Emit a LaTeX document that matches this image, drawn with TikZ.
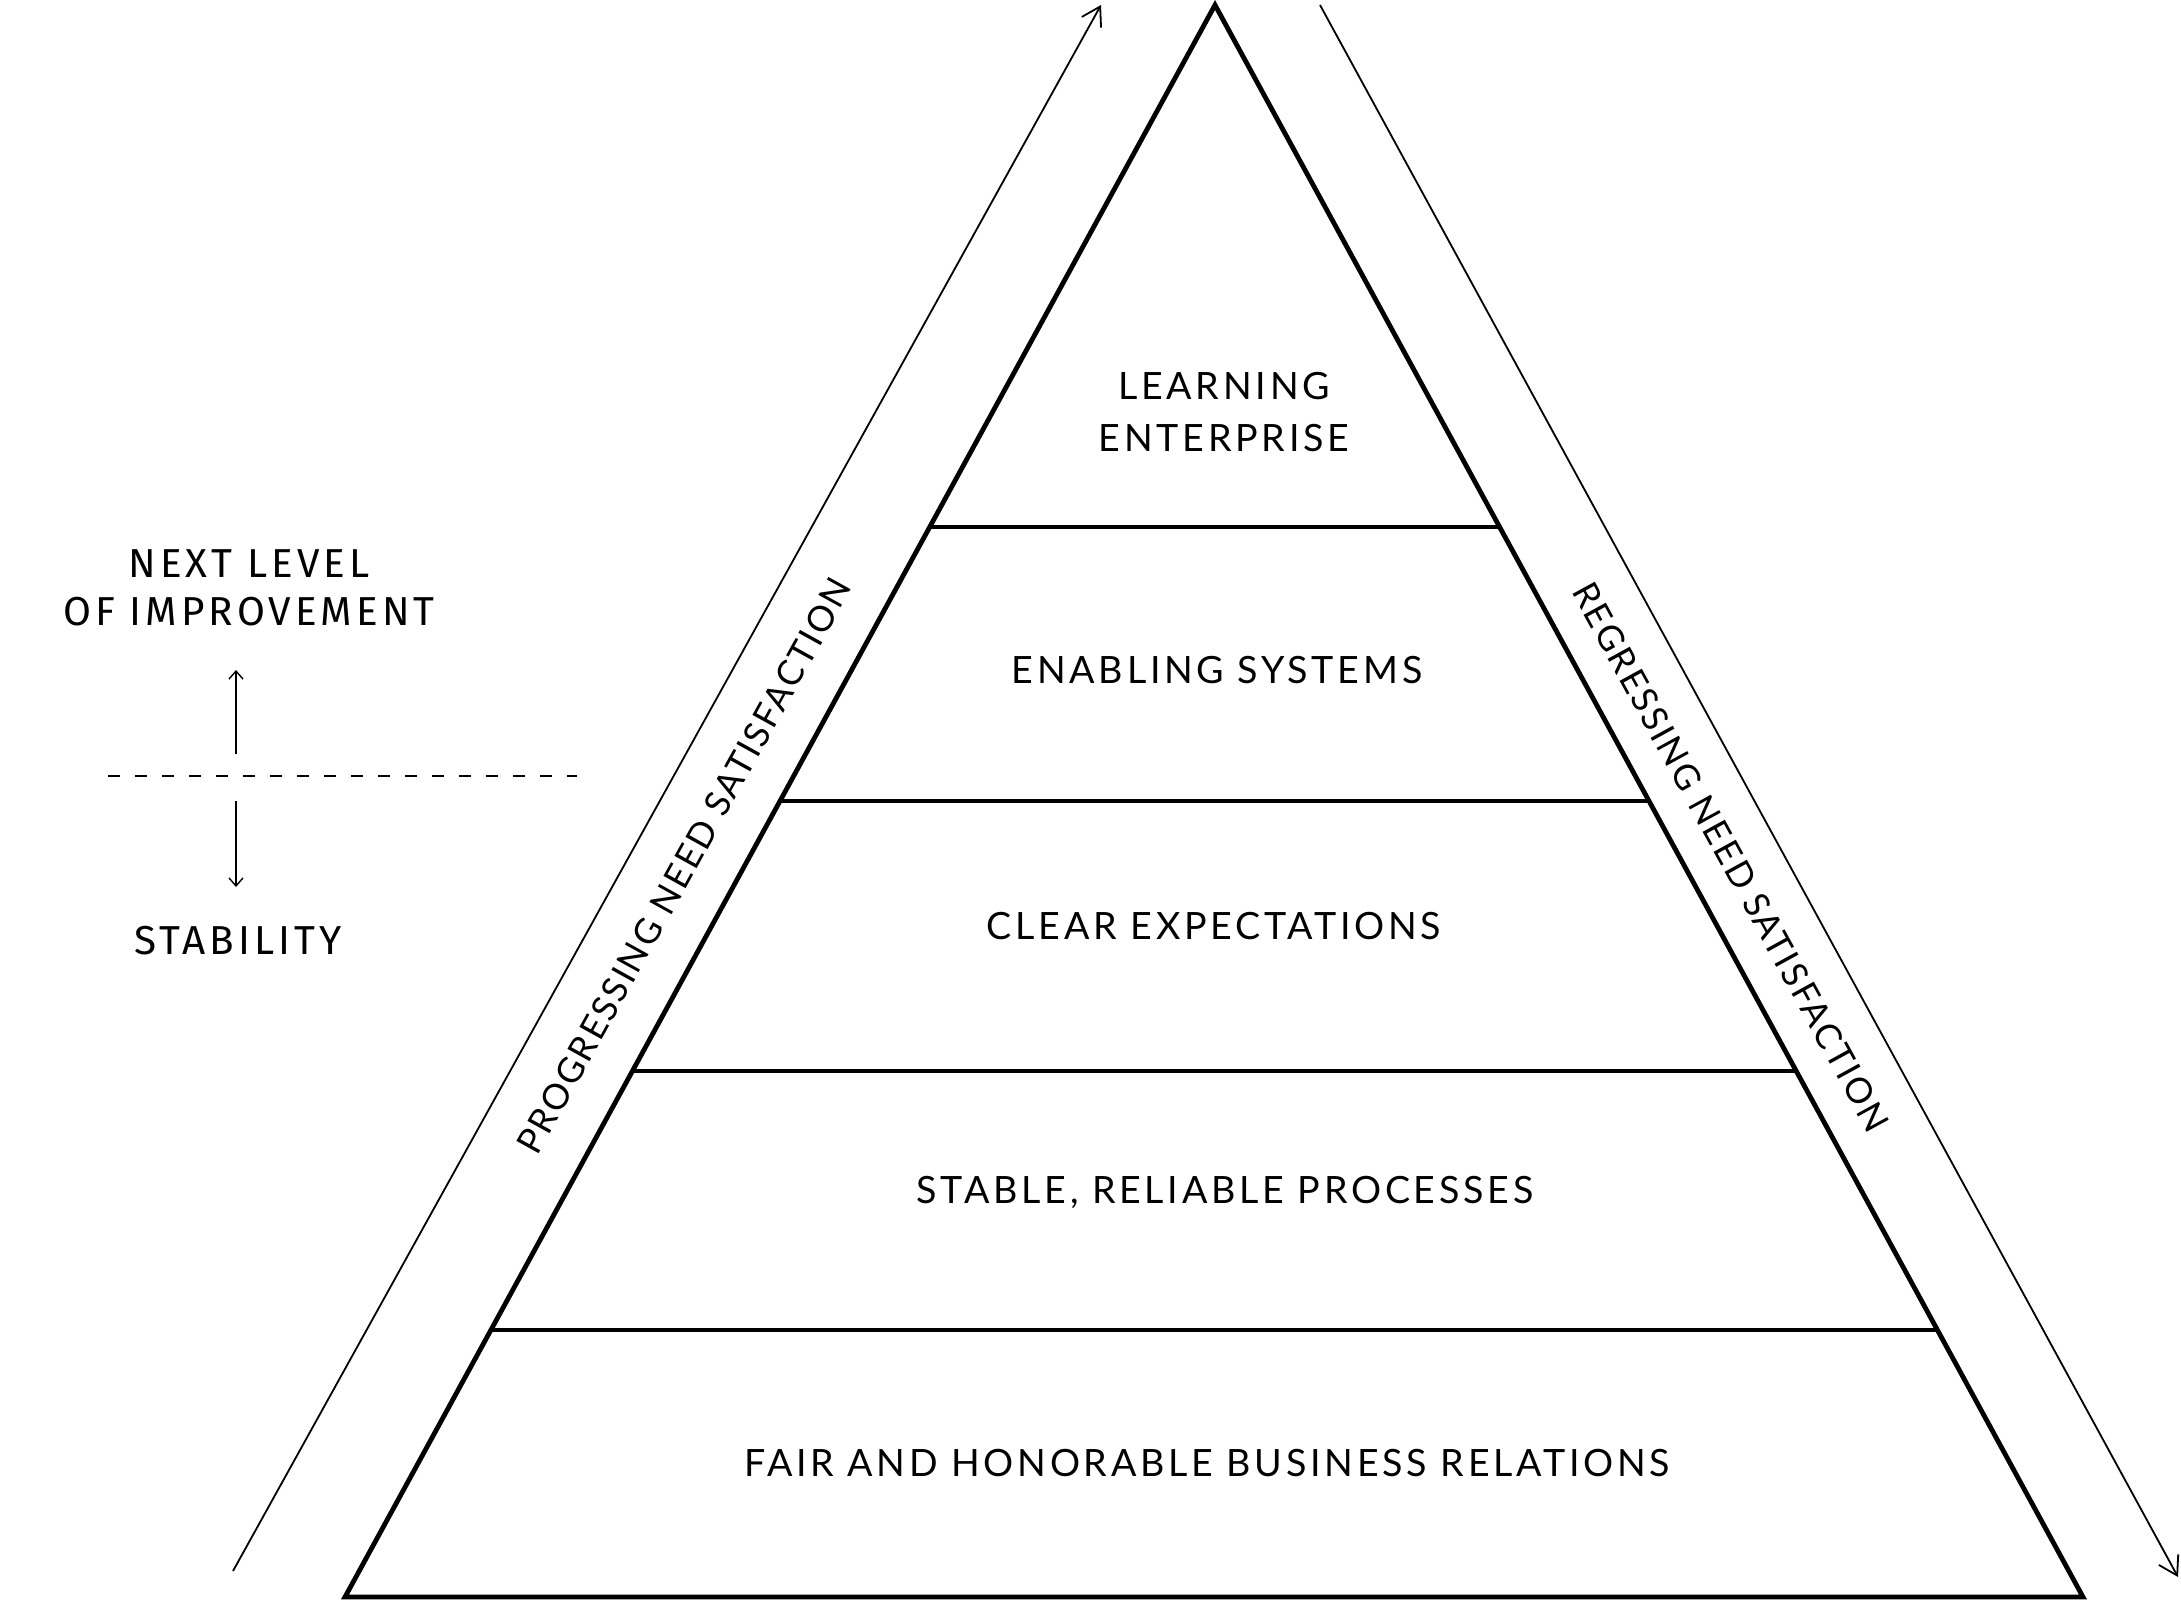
\documentclass[tikz,border=0pt]{standalone}
\usepackage{fontspec}
\setmainfont{Lato}
\newfontfamily\pyrfont{Lato}[LetterSpace=10]
\newfontfamily\sidefont{Lato}[LetterSpace=6]
\newfontfamily\levelfont{Fira Sans}[LetterSpace=10]
\usetikzlibrary{arrows.meta,calc}
\tikzset{
  pyr/.style={line width=2.4pt, line join=miter},
  tier/.style={line width=1.8pt},
  bigarrow/.style={line width=0.9pt, -{Straight Barb[length=9pt,width=11pt,line width=0.9pt]}},
  smallarrow/.style={line width=0.7pt, -{Straight Barb[length=4pt,width=7pt,line width=0.7pt]}},
  pyrtext/.style={font=\pyrfont\fontsize{18.8}{23}\selectfont, anchor=base, inner sep=0pt},
  sidetext/.style={font=\sidefont\fontsize{17.7}{22}\selectfont, inner sep=0pt},
  leveltext/.style={font=\levelfont\fontsize{20.2}{24}\selectfont, anchor=base, inner sep=0pt}
}
\begin{document}
\begin{tikzpicture}[x=0.5pt,y=-0.5pt]
\useasboundingbox (0,0) rectangle (2181,1601);
% pyramid
\coordinate (apex) at (1215,5);
\coordinate (bl) at (345,1597);
\coordinate (br) at (2083,1597);
\draw[pyr] (bl) -- (apex) -- (br) -- cycle;
\foreach \f/\n in {0.3279/a,0.5/b,0.6696/c,0.8323/d}{
  \coordinate (L\n) at ($(apex)!\f!(bl)$);
  \coordinate (R\n) at ($(apex)!\f!(br)$);
  \draw[tier] (L\n) -- (R\n);
}
% tier labels
\node[pyrtext] (t1a) at (1224,399) {LEARNING};
\node[pyrtext] (t1b) at (1224,451) {ENTERPRISE};
\node[pyrtext] (t2) at (1217,683) {ENABLING SYSTEMS};
\node[pyrtext] (t3) at (1214,939) {CLEAR EXPECTATIONS};
\node[pyrtext] (t4) at (1225,1203) {STABLE, RELIABLE PROCESSES};
\node[pyrtext] (t5) at (1207,1476) {FAIR AND HONORABLE BUSINESS RELATIONS};
% side arrows
\coordinate (la0) at (233,1571);
\coordinate (la1) at (1101,5);
\draw[bigarrow] (la0) -- (la1);
\coordinate (ra0) at (1320,5);
\coordinate (ra1) at (2178,1577);
\draw[bigarrow] (ra0) -- (ra1);
\node[sidetext, rotate=61.0] (prog) at (684,866) {PROGRESSING NEED SATISFACTION};
\node[sidetext, rotate=-61.3] (regr) at (1731,857) {REGRESSING NEED SATISFACTION};
% left legend
\node[leveltext] (nl1) at (249,577) {NEXT LEVEL};
\node[leveltext] (nl2) at (249,625) {OF IMPROVEMENT};
\node[leveltext] (stab) at (238,954) {STABILITY};
\coordinate (up0) at (236,754);
\coordinate (up1) at (236,670);
\coordinate (dn0) at (236,801);
\coordinate (dn1) at (236,887);
\draw[smallarrow] (up0) -- (up1);
\draw[smallarrow] (dn0) -- (dn1);
\coordinate (d0) at (108,776);
\coordinate (d1) at (577,776);
\draw[line width=0.8pt, dash pattern=on 6pt off 7.5pt] (d0) -- (d1);
\end{tikzpicture}
\end{document}
